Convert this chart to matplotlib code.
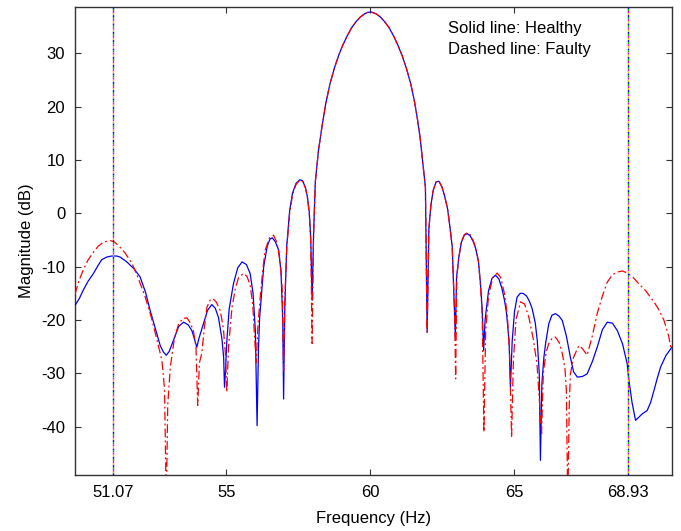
import matplotlib
matplotlib.use("Agg")
import matplotlib.pyplot as plt

plt.rcParams['font.family'] = ['Liberation Sans', 'DejaVu Sans']
plt.rcParams['axes.unicode_minus'] = False

# ── data ─────────────────────────────────────────────────────────────────────

# healthy, left side of the main lobe
healthy_left_f = [49.75, 49.9, 50.04, 50.2, 50.39, 50.55, 50.68, 50.85, 51.03, 51.2,
                  51.32, 51.55, 51.8, 52.01, 52.2, 52.36, 52.55, 52.71, 52.82, 52.92,
                  53.02, 53.17, 53.35, 53.52, 53.68, 53.81, 53.92, 53.98, 54.05, 54.21,
                  54.35, 54.5, 54.62, 54.73, 54.85, 54.91, 54.94, 54.97, 55.02, 55.1,
                  55.25, 55.4, 55.55, 55.7, 55.83, 55.93, 56.01, 56.07, 56.12, 56.16,
                  56.3, 56.42, 56.52, 56.6, 56.7, 56.82, 56.9, 56.96, 56.99, 57.03, 57.1,
                  57.2, 57.3, 57.42, 57.55, 57.65, 57.75, 57.82, 57.88, 57.93, 57.98, 58.03]
healthy_left_db = [-17.3, -16.0, -14.4, -12.8, -11.3, -9.8, -8.7, -8.2, -8.0, -8.0,
                   -8.2, -9.1, -10.4, -11.9, -14.8, -18.2, -21.8, -24.8, -26.0, -26.6,
                   -25.9, -23.8, -21.2, -20.4, -20.9, -22.0, -24.0, -25.1, -23.5, -20.7,
                   -18.2, -17.1, -17.8, -19.5, -23.5, -27.0, -32.6, -30.0, -24.0, -18.0,
                   -13.2, -10.2, -9.1, -9.6, -11.3, -15.0, -22.0, -39.8, -25.0, -19.5,
                   -10.0, -6.2, -4.8, -4.6, -5.3, -6.9, -11.0, -20.0, -34.8, -18.0, -6.0,
                   0.5, 3.8, 5.6, 6.3, 6.1, 4.8, 3.0, 0.2, -4.5, -16.3, -4.0]

# faulty, left side of the main lobe
faulty_left_f = [49.75, 49.9, 50.05, 50.2, 50.39, 50.55, 50.74, 50.97, 51.1, 51.26,
                 51.5, 51.73, 51.95, 52.19, 52.4, 52.6, 52.77, 52.86, 52.92, 52.97,
                 53.06, 53.2, 53.35, 53.5, 53.64, 53.76, 53.86, 53.95, 54.01, 54.07,
                 54.15, 54.25, 54.33, 54.45, 54.54, 54.65, 54.79, 54.9, 54.97, 55.02,
                 55.08, 55.2, 55.32, 55.43, 55.6, 55.72, 55.83, 55.92, 55.97, 56.04,
                 56.1, 56.18, 56.27, 56.35, 56.5, 56.64, 56.76, 56.88, 56.95, 56.99,
                 57.04, 57.1, 57.2, 57.3, 57.42, 57.55, 57.65, 57.75, 57.82, 57.88,
                 57.93, 57.98, 58.03]
faulty_left_db = [-15.2, -12.5, -10.5, -8.8, -7.3, -6.2, -5.4, -5.1, -5.3, -6.0,
                  -7.5, -9.4, -12.2, -15.7, -19.5, -23.8, -27.6, -33.0, -55.0, -36.0,
                  -28.8, -23.5, -20.7, -19.7, -19.6, -20.6, -22.0, -25.0, -36.0, -28.0,
                  -26.3, -21.0, -17.6, -16.2, -16.0, -16.6, -18.2, -21.5, -26.3, -33.5,
                  -25.0, -17.6, -14.0, -12.0, -11.3, -11.8, -13.5, -17.0, -22.0, -28.0,
                  -21.0, -15.7, -10.5, -6.9, -4.6, -4.1, -5.5, -9.4, -15.0, -29.5,
                  -15.0, -6.5, 0.0, 3.5, 5.4, 6.2, 6.0, 4.7, 2.8, 0.0,
                  -5.0, -24.4, -4.0]

# main lobe (both curves overlap here)
main_f = [58.09, 58.2, 58.32, 58.45, 58.6, 58.75, 58.9, 59.05, 59.2, 59.35,
          59.5, 59.65, 59.8, 59.92, 60.05, 60.2, 60.35, 60.5, 60.65, 60.8,
          60.95, 61.1, 61.25, 61.4, 61.52, 61.63, 61.73, 61.82, 61.91, 61.97,
          62.03, 62.1, 62.18, 62.28, 62.38, 62.48, 62.58, 62.68, 62.76, 62.84, 62.92]
main_db = [5.9, 11.8, 16.2, 20.5, 24.3, 27.2, 29.6, 31.6, 33.3, 34.8,
           35.9, 36.8, 37.4, 37.7, 37.7, 37.4, 36.8, 35.9, 34.8, 33.3,
           31.6, 29.6, 27.2, 24.3, 21.3, 17.8, 14.0, 9.5, 4.9, -22.3,
           -3.0, 1.5, 4.3, 5.9, 6.0, 5.0, 3.2, 0.8, -2.5, -6.3, -18.2]

# healthy, right side
healthy_right_f = [62.95, 62.99, 63.07, 63.16, 63.26, 63.36, 63.46, 63.56, 63.65, 63.75,
                   63.82, 63.88, 63.93, 63.98, 64.1, 64.22, 64.34, 64.46, 64.56, 64.65,
                   64.72, 64.81, 64.86, 64.92, 65.0, 65.09, 65.2, 65.3, 65.42, 65.52,
                   65.61, 65.72, 65.79, 65.86, 65.9, 65.95, 66.02, 66.08, 66.19, 66.3,
                   66.42, 66.55, 66.66, 66.8, 66.94, 67.05, 67.18, 67.35, 67.52, 67.7,
                   67.87, 68.05, 68.22, 68.4, 68.57, 68.75, 68.91, 68.97, 69.08, 69.2,
                   69.3, 69.43, 69.6, 69.72, 69.84, 69.95, 70.07, 70.25, 70.42, 70.5]
healthy_right_db = [-23.2, -12.0, -8.2, -5.4, -4.1, -3.8, -4.2, -5.2, -6.5, -9.0,
                    -13.2, -18.0, -25.7, -20.0, -14.5, -12.2, -11.6, -12.3, -14.0, -16.2,
                    -18.5, -23.8, -32.6, -24.0, -18.5, -15.7, -15.0, -15.0, -15.5, -16.5,
                    -17.8, -20.5, -23.8, -30.0, -46.3, -32.0, -27.0, -24.4, -20.7, -19.1,
                    -18.8, -19.3, -20.1, -23.0, -27.0, -29.7, -30.7, -30.6, -30.1, -27.8,
                    -25.1, -21.8, -20.4, -20.6, -22.0, -24.5, -28.2, -31.3, -35.5, -38.8,
                    -38.3, -37.6, -37.0, -35.5, -33.2, -31.0, -28.8, -26.7, -25.4, -24.8]

# faulty, right side
faulty_right_f = [62.96, 63.0, 63.07, 63.16, 63.26, 63.36, 63.46, 63.56, 63.65, 63.75,
                  63.82, 63.88, 63.94, 64.0, 64.1, 64.25, 64.4, 64.52, 64.65, 64.75,
                  64.83, 64.9, 64.96, 65.05, 65.21, 65.35, 65.5, 65.65, 65.78, 65.94,
                  66.0, 66.1, 66.19, 66.32, 66.42, 66.55, 66.66, 66.75, 66.8, 66.85,
                  66.9, 66.94, 67.05, 67.23, 67.35, 67.52, 67.7, 67.87, 68.05, 68.22,
                  68.4, 68.57, 68.75, 68.91, 69.1, 69.26, 69.55, 69.84, 70.0, 70.19,
                  70.35, 70.42, 70.5]
faulty_right_db = [-31.0, -12.0, -8.2, -5.2, -4.0, -3.6, -4.0, -5.0, -6.3, -9.0,
                   -13.5, -19.0, -41.0, -22.0, -15.5, -12.0, -11.2, -12.0, -15.0, -19.0,
                   -26.0, -42.0, -28.0, -20.0, -16.6, -17.0, -19.5, -23.5, -28.2, -41.3,
                   -30.0, -26.0, -24.4, -23.3, -23.2, -24.2, -26.3, -29.0, -33.2, -55.0,
                   -36.0, -30.1, -27.0, -24.8, -25.3, -26.6, -23.0, -18.8, -15.5, -12.9,
                   -11.5, -11.0, -10.8, -11.2, -11.9, -12.9, -14.5, -16.6, -18.0, -20.1,
                   -23.0, -25.1, -26.0]

sideband_f = [51.07, 68.93]
xticks = [51.07, 55, 60, 65, 68.93]
xtick_labels = ['51.07', '55', '60', '65', '68.93']
yticks = [-40, -30, -20, -10, 0, 10, 20, 30]

healthy_f = healthy_left_f + main_f + healthy_right_f
healthy_db = healthy_left_db + main_db + healthy_right_db
faulty_f = faulty_left_f + main_f + faulty_right_f
faulty_db = faulty_left_db + main_db + faulty_right_db

# ── figure ────────────────────────────────────────────────────────────────────

fig = plt.figure(figsize=(6.81, 5.31), dpi=100)
ax = fig.add_axes([0.110, 0.105, 0.877, 0.882])

ax.plot(healthy_f, healthy_db, color='#0000ff', linewidth=0.9, zorder=3)
ax.plot(faulty_f, faulty_db, color='#ff0000', linewidth=0.9,
        linestyle=(0, (7, 2.5, 1.5, 2.5)), zorder=4)

# multi-coloured dotted marker lines at the sideband frequencies
for fx in sideband_f:
    for k, c in enumerate(['#0000ff', '#00b000', '#ff00ff', '#e0c000']):
        ax.axvline(fx, color=c, linewidth=1.0, linestyle=(k * 1.5, (1.5, 4.5)), zorder=5)

ax.set_xlim(49.75, 70.47)
ax.set_ylim(-49.1, 38.7)
ax.set_xticks(xticks)
ax.set_xticklabels(xtick_labels)
ax.set_yticks(yticks)
ax.tick_params(direction='in', length=4, width=0.8, color='#333333',
               top=True, right=True, labelsize=12, pad=7)
for s in ax.spines.values():
    s.set_color('#333333')
    s.set_linewidth(1.0)

ax.set_xlabel('Frequency (Hz)', fontsize=12, labelpad=8)
ax.set_ylabel('Magnitude (dB)', fontsize=12, labelpad=5)

ax.text(0.624, 0.97, 'Solid line: Healthy\nDashed line: Faulty',
        transform=ax.transAxes, fontsize=12, va='top', ha='left', linespacing=1.5)

fig.savefig('out.png', dpi=100)
